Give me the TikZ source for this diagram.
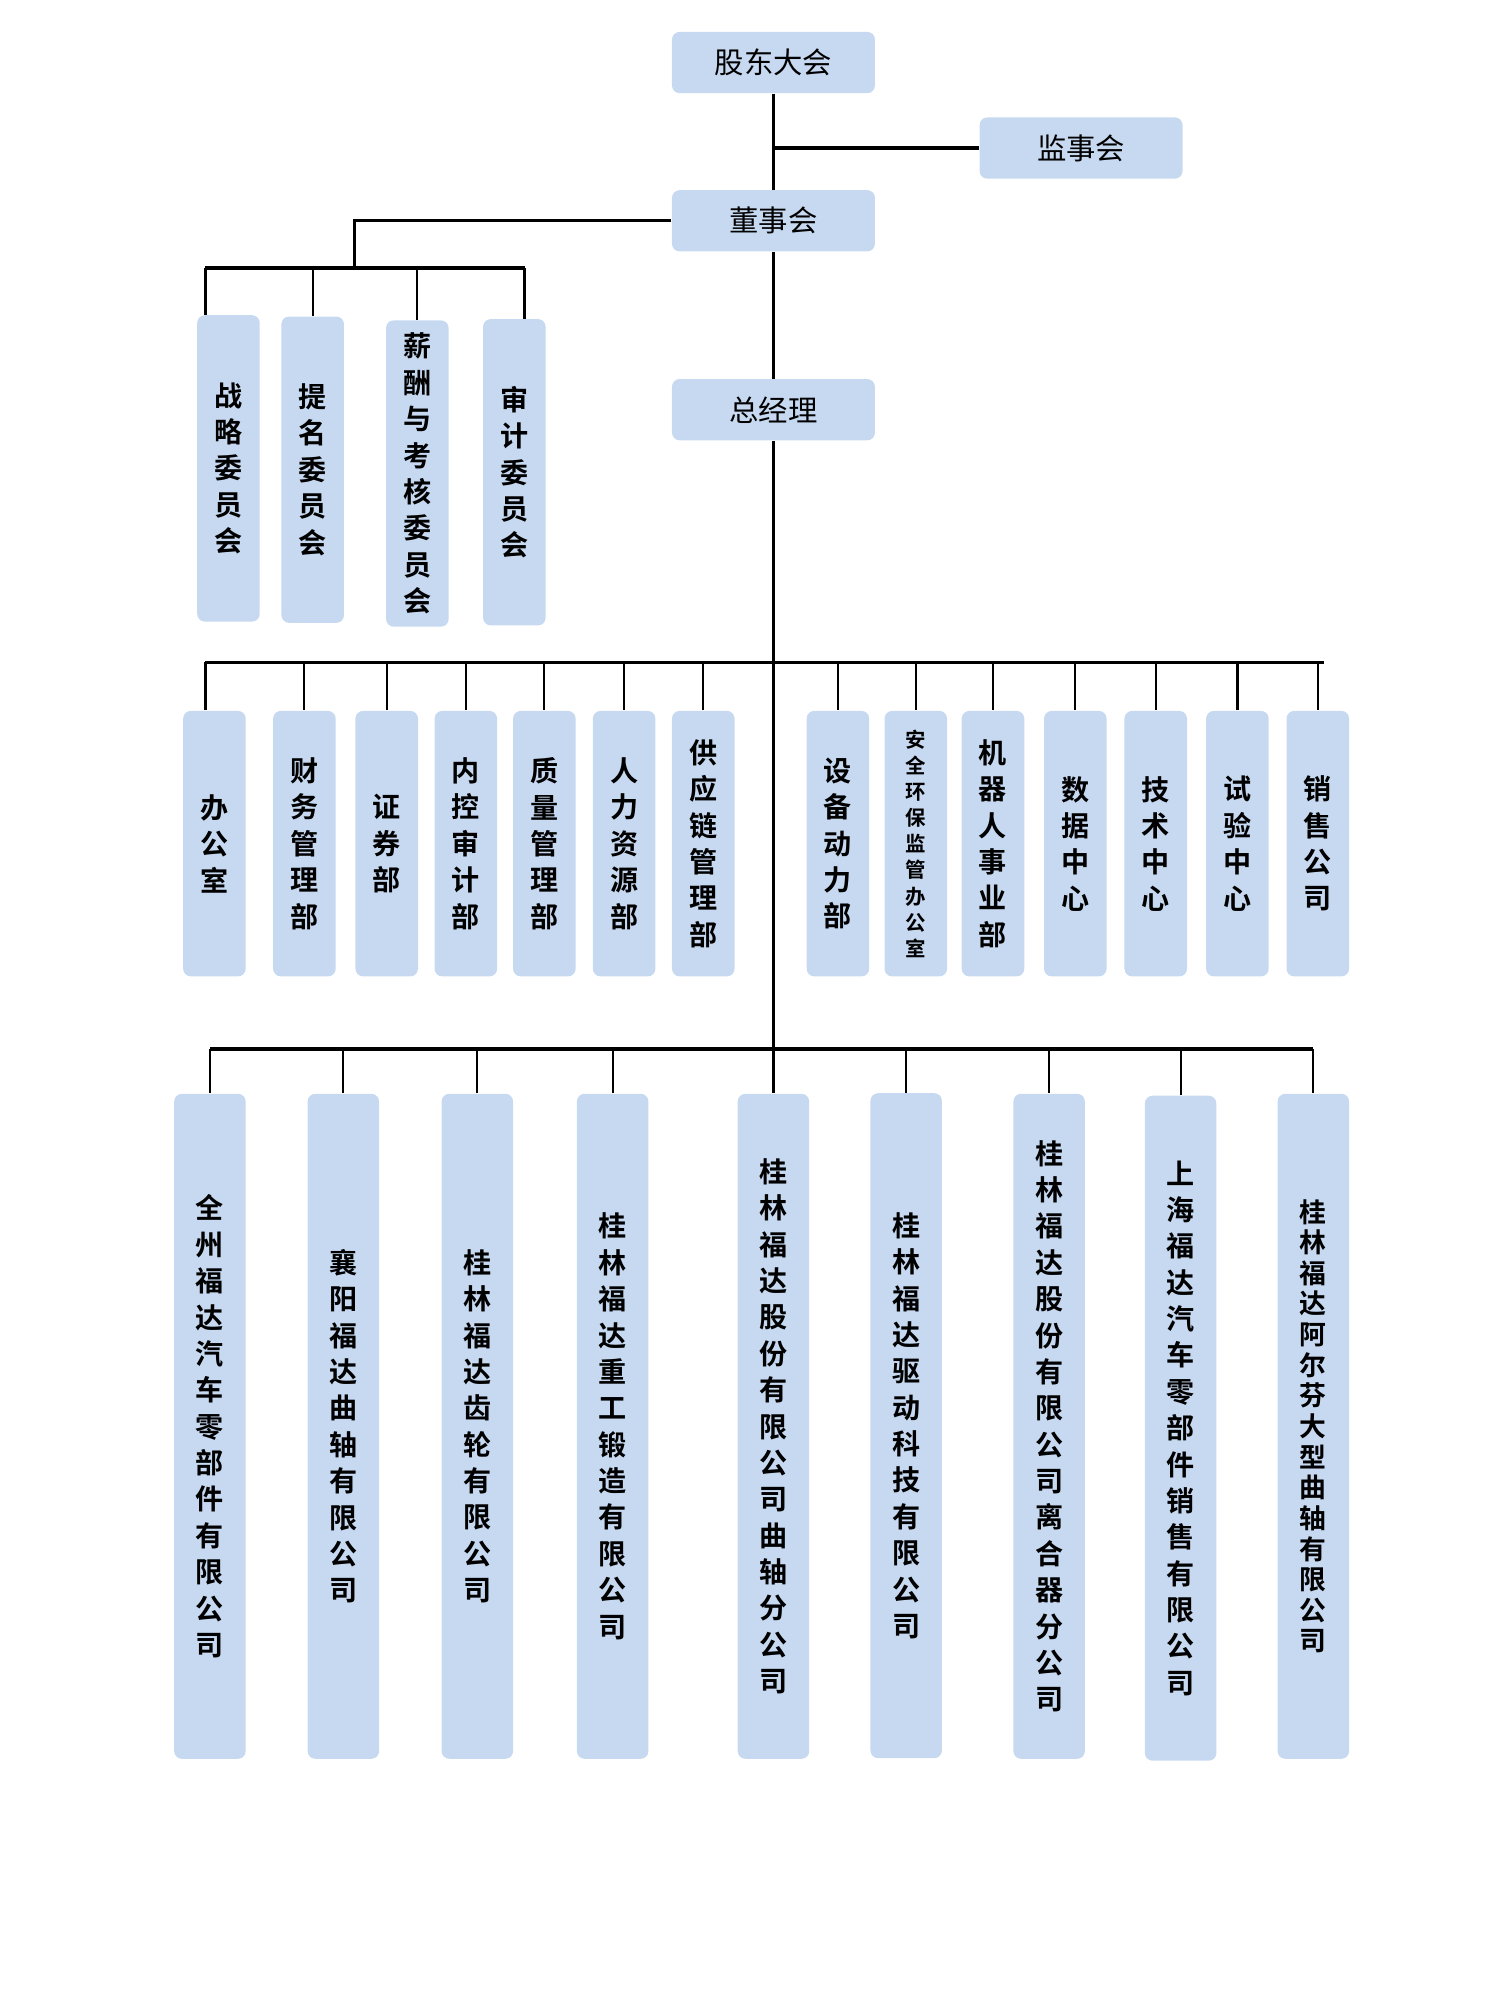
\documentclass[tikz,border=0pt]{standalone}
\usepackage{fontspec}
\newfontfamily\cjk{Noto Sans CJK SC}[BoldFont={Noto Sans CJK SC Bold}]
\usepackage{tikz}
\usetikzlibrary{calc}

\definecolor{boxblue}{RGB}{198,217,241}

\tikzset{
  topbox/.style={fill=boxblue, rounded corners=3pt, minimum width=79.5pt, minimum height=24pt, inner sep=0pt, font=\cjk\fontsize{11.5}{14}\selectfont},
  vbox/.style={fill=boxblue, rounded corners=3pt, minimum width=24.5pt, inner sep=0pt, align=center, font=\cjk\bfseries\fontsize{11}{14.25}\selectfont},
  combox/.style={vbox, minimum height=120pt},
  deptbox/.style={vbox, minimum height=104pt},
  compbox/.style={vbox, minimum width=28pt, minimum height=260.5pt},
  link/.style={line width=0.85pt},
  bus/.style={line width=1.3pt}
}

\begin{document}
\begin{tikzpicture}[x=0.5pt, y=-0.5pt]
\useasboundingbox (0,0) rectangle (1175,1567);

% top level
\node[topbox] (gudong) at (606,49) {股东大会};
\node[topbox] (jianshi) at (847,116) {监事会};
\node[topbox] (dongshi) at (606,173) {董事会};
\node[topbox] (zongjingli) at (606,321) {总经理};

\draw[link] (gudong) -- (dongshi);
\draw[bus] (jianshi.west) -- (jianshi.west -| gudong.south);
\draw[link] (dongshi) -- (zongjingli);

% committees
\node[combox] (zhanlue) at (179,367) {战\\略\\委\\员\\会};
\node[combox] (timing) at (245,368) {提\\名\\委\\员\\会};
\node[combox] (xinchou) at (327,371) {薪\\酬\\与\\考\\核\\委\\员\\会};
\node[combox] (shenji) at (403,370) {审\\计\\委\\员\\会};

\coordinate (cbus) at (278,210);
\coordinate (cbusL) at ([xshift=-9pt]zhanlue.north |- cbus);
\coordinate (cbusR) at ([xshift=4pt]shenji.north |- cbus);
\draw[bus] (dongshi.west) -| (cbus);
\draw[bus] (cbusL) -- (cbusR);
\draw[link] (cbusL) -- ([xshift=-9pt]zhanlue.north);
\draw[link] (cbusR) -- ([xshift=4pt]shenji.north);
\foreach \n in {timing,xinchou}
  \draw[link] (\n.north |- cbus) -- (\n.north);

% departments
\node[deptbox] (bangong) at (168,661) {办\\公\\室};
\node[deptbox] (caiwu) at (238.5,661) {财\\务\\管\\理\\部};
\node[deptbox] (zhengquan) at (303,661) {证\\券\\部};
\node[deptbox] (neikong) at (365,661) {内\\控\\审\\计\\部};
\node[deptbox] (zhiliang) at (426.5,661) {质\\量\\管\\理\\部};
\node[deptbox] (renli) at (489,661) {人\\力\\资\\源\\部};
\node[deptbox] (gongying) at (551,661) {供\\应\\链\\管\\理\\部};
\node[deptbox] (shebei) at (656.5,661) {设\\备\\动\\力\\部};
\node[deptbox, font=\cjk\bfseries\fontsize{8}{10.25}\selectfont] (anquan) at (717.5,661) {安\\全\\环\\保\\监\\管\\办\\公\\室};
\node[deptbox] (jiqiren) at (778,661) {机\\器\\人\\事\\业\\部};
\node[deptbox] (shuju) at (842.5,661) {数\\据\\中\\心};
\node[deptbox] (jishu) at (905.5,661) {技\\术\\中\\心};
\node[deptbox] (shiyan) at (969.5,661) {试\\验\\中\\心};
\node[deptbox] (xiaoshou) at (1032.5,661) {销\\售\\公\\司};

\coordinate (dbusL) at (161,519);
\coordinate (dbusR) at (1037,519);
\draw[bus] (dbusL) -- (dbusR);
\draw[link] (dbusL) -- (dbusL |- bangong.north);
\foreach \n in {caiwu,zhengquan,neikong,zhiliang,renli,gongying,shebei,anquan,jiqiren,shuju,jishu,shiyan,xiaoshou}
  \draw[link] (\n.north |- dbusL) -- (\n.north);

% companies
\node[compbox] (quanzhou) at (164.5,1117.5) {全\\州\\福\\达\\汽\\车\\零\\部\\件\\有\\限\\公\\司};
\node[compbox] (xiangyang) at (269,1117.5) {襄\\阳\\福\\达\\曲\\轴\\有\\限\\公\\司};
\node[compbox] (chilun) at (374,1117.5) {桂\\林\\福\\达\\齿\\轮\\有\\限\\公\\司};
\node[compbox] (zhonggong) at (480,1117.5) {桂\\林\\福\\达\\重\\工\\锻\\造\\有\\限\\公\\司};
\node[compbox] (quzhou) at (606,1117.5) {桂\\林\\福\\达\\股\\份\\有\\限\\公\\司\\曲\\轴\\分\\公\\司};
\node[compbox] (qudong) at (710,1117) {桂\\林\\福\\达\\驱\\动\\科\\技\\有\\限\\公\\司};
\node[compbox] (lihe) at (822,1117.5) {桂\\林\\福\\达\\股\\份\\有\\限\\公\\司\\离\\合\\器\\分\\公\\司};
\node[compbox] (shanghai) at (925,1119) {上\\海\\福\\达\\汽\\车\\零\\部\\件\\销\\售\\有\\限\\公\\司};
\node[compbox, font=\cjk\bfseries\fontsize{10.5}{12}\selectfont] (aerfen) at (1029,1117.5) {桂\\林\\福\\达\\阿\\尔\\芬\\大\\型\\曲\\轴\\有\\限\\公\\司};

\coordinate (gbus) at (0,822);
\draw[bus] (quanzhou.north |- gbus) -- (aerfen.north |- gbus);
\foreach \n in {quanzhou,xiangyang,chilun,zhonggong,qudong,lihe,shanghai,aerfen}
  \draw[link] (\n.north |- gbus) -- (\n.north);
\draw[link] (zongjingli) -- (quzhou);
\end{tikzpicture}
\end{document}
